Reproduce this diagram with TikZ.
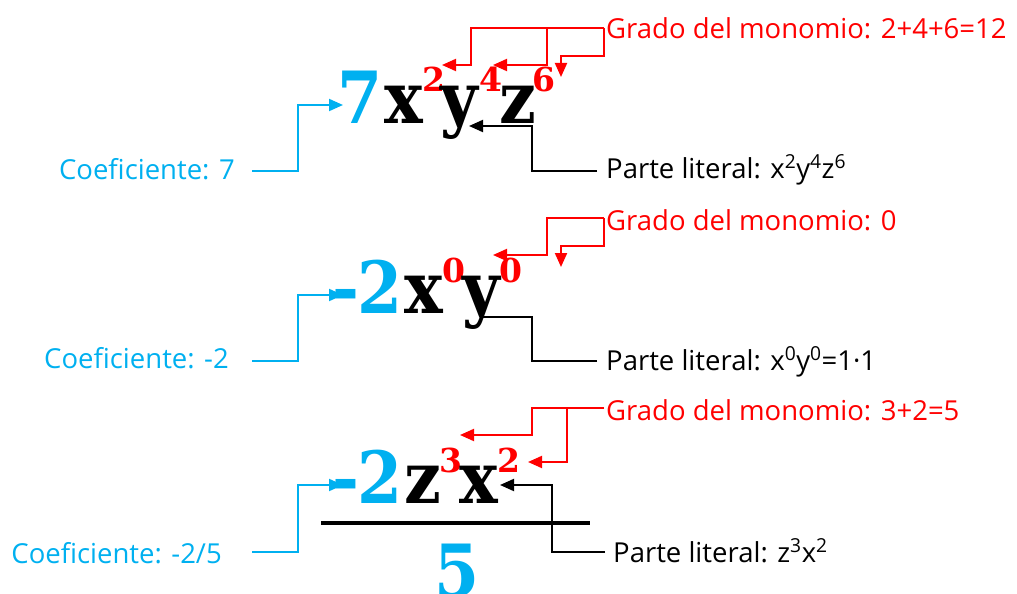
\documentclass[tikz,border=0pt]{standalone}
\usepackage{fontspec}
\setmainfont{Open Sans}
\newfontfamily\bigserif{DejaVu Serif}
\usetikzlibrary{arrows.meta}
\definecolor{cblue}{HTML}{00B0F0}
\definecolor{cred}{HTML}{FF0000}
\newcommand\narrowglyph[1]{\scalebox{0.9}[1]{#1}}
\tikzset{
  big/.style={font=\fontsize{72}{72}\selectfont\bigserif\bfseries, inner sep=0pt, anchor=base west},
  supx/.style={font=\fontsize{33}{33}\selectfont\bigserif\bfseries, text=cred, inner sep=0pt, anchor=base west},
  lab/.style={font=\fontsize{27.5}{30}\selectfont, inner sep=0pt},
  tip/.style={-{Triangle[length=14pt,width=12pt]}},
  bconn/.style={draw=cblue, line width=2pt, tip},
  rconn/.style={draw=cred, line width=2pt, tip},
  kconn/.style={draw=black, line width=2pt, tip},
}
\begin{document}
\begin{tikzpicture}[x=1pt,y=-1pt]
\useasboundingbox (0,0) rectangle (1017,594);
% connector end points
\coordinate (b1s) at (252,171); \coordinate (b1e) at (343,105);
\coordinate (b2s) at (252,361); \coordinate (b2e) at (343,295);
\coordinate (b3s) at (252,552); \coordinate (b3e) at (343,485);
\coordinate (g1s) at (604,28); \coordinate (r1a) at (442,65); \coordinate (r1b) at (493,65); \coordinate (r1c) at (561,77);
\coordinate (g2s) at (604,218); \coordinate (r2a) at (493,255); \coordinate (r2b) at (561,267);
\coordinate (g3s) at (604,408); \coordinate (r3a) at (460,435); \coordinate (r3b) at (528,462);
\coordinate (p1s) at (597,171); \coordinate (k1) at (469,126);
\coordinate (p2s) at (597,361); \coordinate (k2) at (483,317);
\coordinate (p3s) at (605,552); \coordinate (k3) at (500,485);
% connectors
\draw[bconn] (b1s) -- (298,171) |- (b1e);
\draw[bconn] (b2s) -- (298,361) |- (b2e);
\draw[bconn] (b3s) -- (298,552) |- (b3e);
\draw[rconn] (g1s) -| (471,65) -- (r1a);
\draw[rconn] (g1s) -| (547,65) -- (r1b);
\draw[rconn] (g1s) -- (604,56) -| (r1c);
\draw[rconn] (g2s) -| (547,255) -- (r2a);
\draw[rconn] (g2s) -- (604,246) -| (r2b);
\draw[rconn] (g3s) -| (532,435) -- (r3a);
\draw[rconn] (g3s) -| (567,462) -- (r3b);
\draw[kconn] (p1s) -| (532,126) -- (k1);
\draw[draw=black, line width=2pt] (p2s) -| (532,317) -- (k2);
\draw[kconn] (p3s) -| (552,485) -- (k3);
% monomial 1
\node[big, text=cblue] (c1) at (337,123) {\narrowglyph{7}};
\node[big] (x1) at (384,123) {\narrowglyph{x}};
\node[supx] (e1a) at (422,92) {2};
\node[big] (y1) at (440,123) {\narrowglyph{y}};
\node[supx] (e1b) at (479,92) {4};
\node[big] (z1) at (499,123) {\narrowglyph{z}};
\node[supx] (e1c) at (532,92) {6};
% monomial 2
\node[big, text=cblue] (m2) at (332,313) {\narrowglyph{-}};
\node[big, text=cblue] (c2) at (357,313) {\narrowglyph{2}};
\node[big] (x2) at (404,313) {\narrowglyph{x}};
\node[supx] (e2a) at (442,282) {0};
\node[big] (y2) at (462,313) {\narrowglyph{y}};
\node[supx] (e2b) at (499,282) {0};
% monomial 3
\node[big, text=cblue] (m3) at (332,503) {\narrowglyph{-}};
\node[big, text=cblue] (c3) at (357,503) {\narrowglyph{2}};
\node[big] (z3) at (404,503) {\narrowglyph{z}};
\node[supx] (e3a) at (439,472) {3};
\node[big] (x3) at (459,503) {\narrowglyph{x}};
\node[supx] (e3b) at (497,472) {2};
\draw[line width=4pt] (321,523) -- (590,523);
\node[big, text=cblue] (d3) at (434,596) {\narrowglyph{5}};
% labels
\node[lab, text=cblue, anchor=base east] (cf1) at (235,179) {Coeficiente: 7};
\node[lab, text=cblue, anchor=base east] (cf2) at (229,368) {Coeficiente: -2};
\node[lab, text=cblue, anchor=base east] (cf3) at (222,563) {Coeficiente: -2/5};
\node[lab, text=cred, anchor=base west] (g1) at (606,39) {Grado del monomio: 2+4+6=12};
\node[lab, text=cred, anchor=base west] (g2) at (606,230) {Grado del monomio: 0};
\node[lab, text=cred, anchor=base west] (g3) at (606,420) {Grado del monomio: 3+2=5};
\node[lab, anchor=base west] (p1) at (606,178) {Parte literal: x\textsuperscript{2}y\textsuperscript{4}z\textsuperscript{6}};
\node[lab, anchor=base west] (p2) at (606,370) {Parte literal: x\textsuperscript{0}y\textsuperscript{0}=1·1};
\node[lab, anchor=base west] (p3) at (613,562) {Parte literal: z\textsuperscript{3}x\textsuperscript{2}};
\end{tikzpicture}
\end{document}
